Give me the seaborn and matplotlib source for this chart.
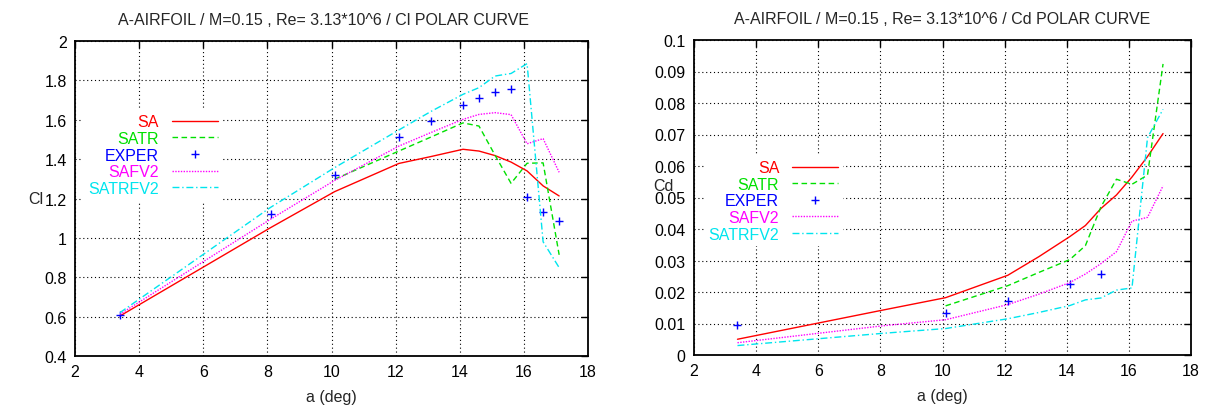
import numpy as np
import pandas as pd
import matplotlib
matplotlib.use("Agg")
import matplotlib.pyplot as plt
from matplotlib.ticker import FormatStrFormatter, MultipleLocator, FuncFormatter
import seaborn as sns

# Angle of attack (deg) shared by the computed polars
alpha = [3.4, 8.1, 10.1, 12.1, 13.1, 14.1, 14.6, 15.1, 15.6, 16.1, 16.6, 17.1]

# Lift coefficient
cl_sa = [0.603, 1.052, 1.235, 1.378, 1.413, 1.450, 1.441, 1.418, 1.385, 1.340, 1.264, 1.213]
cl_satr = [np.nan, np.nan, 1.298, 1.441, 1.512, 1.584, 1.568, 1.420, 1.277, 1.379, 1.381, 0.914]
cl_exper = [0.608, 1.123, 1.319, 1.512, 1.594, 1.673, 1.709, 1.741, 1.758, 1.208, 1.130, 1.086]
cl_safv2 = [0.612, 1.095, 1.292, 1.466, 1.535, 1.602, 1.627, 1.636, 1.626, 1.478, 1.504, 1.333]
cl_satrfv2 = [0.620, 1.155, 1.357, 1.548, 1.642, 1.729, 1.763, 1.822, 1.835, 1.885, 0.980, 0.849]

# Drag coefficient
cd_sa = [0.0050, 0.0143, 0.0182, 0.0253, 0.0312, 0.0376, 0.0411, 0.0465, 0.0508, 0.0565, 0.0630, 0.0703]
cd_satr = [np.nan, np.nan, 0.0156, 0.0220, 0.0262, 0.0303, 0.0347, 0.0470, 0.0558, 0.0542, 0.0571, 0.0924]
cd_safv2 = [0.0039, 0.0093, 0.0112, 0.0160, 0.0193, 0.0230, 0.0257, 0.0290, 0.0328, 0.0425, 0.0437, 0.0537]
cd_satrfv2 = [0.0030, 0.0069, 0.0084, 0.0115, 0.0135, 0.0157, 0.0175, 0.0181, 0.0206, 0.0213, 0.0690, 0.0780]
alpha_cd_exper = [3.4, 10.1, 12.1, 14.1, 15.1]
cd_exper = [0.0095, 0.0134, 0.0171, 0.0224, 0.0258]

sns.set_style("white")
plt.rcParams["font.family"] = ["Liberation Sans", "DejaVu Sans"]
FS = 11.5

W, H = 1209, 410
fig = plt.figure(figsize=(W / 100, H / 100), dpi=100)


def px_axes(x0, x1, y0, y1):
    return fig.add_axes([x0 / W, 1 - y1 / H, (x1 - x0) / W, (y1 - y0) / H])


ax_l = px_axes(75, 588, 42, 357)
ax_r = px_axes(694, 1191, 41, 356)

styles = [
    ("SA", "#ff0000", "-", None),
    ("SATR", "#00e000", (0, (4, 2.5)), None),
    ("EXPER", "#0000ff", "none", "+"),
    ("SAFV2", "#ff00ff", (0, (1, 1)), None),
    ("SATRFV2", "#00e5ee", (0, (5, 2, 1, 2)), None),
]


def draw(ax, series):
    for (name, color, ls, marker), (xs, ys) in zip(styles, series):
        df = pd.DataFrame({"a": xs, "v": ys}).dropna()
        if marker:
            sns.lineplot(data=df, x="a", y="v", ax=ax, color=color, linestyle="none",
                         marker=marker, markersize=6, markeredgewidth=1.0,
                         markeredgecolor=color, markerfacecolor=color,
                         label=name, sort=False)
        else:
            sns.lineplot(data=df, x="a", y="v", ax=ax, color=color, linestyle=ls,
                         linewidth=1.0, label=name, sort=False)


draw(ax_l, [(alpha, cl_sa), (alpha, cl_satr), (alpha, cl_exper),
            (alpha, cl_safv2), (alpha, cl_satrfv2)])
draw(ax_r, [(alpha, cd_sa), (alpha, cd_satr), (alpha_cd_exper, cd_exper),
            (alpha, cd_safv2), (alpha, cd_satrfv2)])


def style_axes(ax, ylim, ystep, title, title_x, ylabel, ylab_xy, leg_xy):
    ax.set_xlim(2, 18)
    ax.set_ylim(*ylim)
    ax.xaxis.set_major_locator(MultipleLocator(2))
    ax.yaxis.set_major_locator(MultipleLocator(ystep))
    ax.xaxis.set_major_formatter(FormatStrFormatter("%g"))
    ax.yaxis.set_major_formatter(FuncFormatter(lambda v, p: f"{round(v, 6):g}"))
    ax.tick_params(direction="in", length=5, width=1, top=True, right=True,
                   labelsize=FS, pad=6, colors="black")
    for s in ax.spines.values():
        s.set_visible(True)
        s.set_color("black")
        s.set_linewidth(1.3)
    ax.grid(True, color="black", linestyle=(0, (1, 2.5)), linewidth=0.8)
    ax.set_axisbelow(True)
    t = ax.set_title(title, fontsize=FS, pad=12)
    t.set_x(title_x)
    ax.set_xlabel("a (deg)", fontsize=FS)
    ax.xaxis.set_label_coords(0.5, -0.105)
    ax.set_ylabel(ylabel, fontsize=FS, rotation=0, ha="center", va="center")
    ax.yaxis.set_label_coords(*ylab_xy)
    handles, labels = ax.get_legend_handles_labels()
    leg = ax.legend(handles, labels, loc="center right", bbox_to_anchor=leg_xy,
                    markerfirst=False, frameon=True, fancybox=False,
                    facecolor="white", edgecolor="none", framealpha=1,
                    fontsize=FS, handlelength=2.9, handletextpad=0.8,
                    labelspacing=0.1, borderpad=0.3, borderaxespad=0)
    for txt, h in zip(leg.get_texts(), leg.legend_handles):
        txt.set_color(h.get_color())


style_axes(ax_l, (0.4, 2.0), 0.2,
           "A-AIRFOIL / M=0.15 , Re= 3.13*10^6 / Cl POLAR CURVE", 0.485, "Cl",
           (-0.076, 0.5), (0.288, 0.638))
style_axes(ax_r, (0.0, 0.1), 0.01,
           "A-AIRFOIL / M=0.15 , Re= 3.13*10^6 / Cd POLAR CURVE", 0.5, "Cd",
           (-0.062, 0.537), (0.30, 0.489))

fig.savefig("out.png", dpi=100)
